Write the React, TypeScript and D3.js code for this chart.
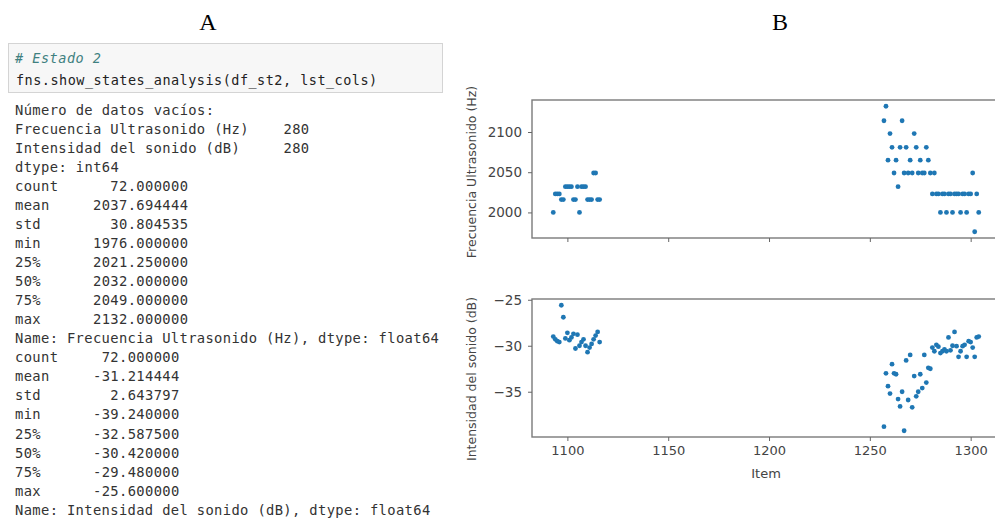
import { useEffect, useRef } from "react";
import * as d3 from "d3";

// item index of each row (two runs of consecutive items)
const items: number[] = [
  1093, 1094, 1095, 1096, 1097, 1098, 1099, 1100, 1101, 1102, 1103, 1104,
  1105, 1106, 1107, 1108, 1109, 1110, 1111, 1112, 1113, 1114, 1115, 1116,
  1257, 1258, 1259, 1260, 1261, 1262, 1263, 1264, 1265, 1266, 1267, 1268,
  1269, 1270, 1271, 1272, 1273, 1274, 1275, 1276, 1277, 1278, 1279, 1280,
  1281, 1282, 1283, 1284, 1285, 1286, 1287, 1288, 1289, 1290, 1291, 1292,
  1293, 1294, 1295, 1296, 1297, 1298, 1299, 1300, 1301, 1302, 1303, 1304,
];

const frecuencia: number[] = [
  2000, 2023, 2023, 2023, 2016, 2016, 2032, 2032, 2032, 2032, 2016, 2016,
  2032, 2000, 2032, 2032, 2032, 2016, 2016, 2016, 2049, 2049, 2016, 2016,
  2114, 2132, 2065, 2098, 2081, 2049, 2065, 2032, 2081, 2114, 2049, 2081,
  2049, 2065, 2049, 2098, 2081, 2049, 2065, 2049, 2049, 2081, 2065, 2049,
  2023, 2049, 2023, 2023, 2000, 2023, 2023, 2000, 2023, 2023, 2000, 2023,
  2023, 2023, 2000, 2023, 2023, 2000, 2023, 2023, 2049, 1976, 2023, 2000,
];

const intensidad: number[] = [
  -29.0, -29.3, -29.5, -29.6, -25.6, -26.9, -29.2, -28.6, -29.4, -29.1, -28.7, -30.3,
  -28.8, -30.0, -29.6, -29.3, -30.0, -30.7, -30.2, -29.8, -29.3, -28.9, -28.5, -29.6,
  -38.8, -33.0, -34.4, -35.2, -32.0, -33.0, -33.1, -35.8, -36.6, -35.0, -39.24, -31.6,
  -35.9, -31.0, -36.7, -33.3, -35.5, -35.0, -33.1, -34.6, -31.0, -34.0, -32.4, -32.5,
  -30.2, -30.6, -29.9, -30.1, -30.8, -30.6, -30.4, -30.6, -29.1, -30.5, -30.0, -28.5,
  -30.05, -31.2, -30.6, -30.05, -29.9, -31.2, -29.5, -29.6, -30.2, -31.2, -29.1, -29.0,
];

const xTicks = [1100, 1150, 1200, 1250, 1300];
const freqTicks = [2000, 2050, 2100];
const intTicks = [-35, -30, -25];

const codeComment = "# Estado 2";
const codeLine = "fns.show_states_analysis(df_st2, lst_cols)";
const outputLines: string[] = [
  "Número de datos vacíos:",
  "Frecuencia Ultrasonido (Hz)    280",
  "Intensidad del sonido (dB)     280",
  "dtype: int64",
  "count      72.000000",
  "mean     2037.694444",
  "std        30.804535",
  "min      1976.000000",
  "25%      2021.250000",
  "50%      2032.000000",
  "75%      2049.000000",
  "max      2132.000000",
  "Name: Frecuencia Ultrasonido (Hz), dtype: float64",
  "count     72.000000",
  "mean     -31.214444",
  "std        2.643797",
  "min      -39.240000",
  "25%      -32.587500",
  "50%      -30.420000",
  "75%      -29.480000",
  "max      -25.600000",
  "Name: Intensidad del sonido (dB), dtype: float64",
];

const W = 995;
const H = 523;
const CHAR_W = 8.65;
const MONO = "'DejaVu Sans Mono', monospace";
const SANS = "'DejaVu Sans', sans-serif";

const App = () => {
  const ref = useRef<SVGSVGElement>(null!);

  useEffect(() => {
    const svg = d3.select(ref.current);
    svg.selectAll("*").remove();
    svg.append("rect").attr("width", W).attr("height", H).attr("fill", "#fff");

    // panel letters
    svg.append("text").attr("x", 208).attr("y", 30).attr("text-anchor", "middle")
      .attr("font-family", "'Liberation Serif', serif").attr("font-size", 24).text("A");
    svg.append("text").attr("x", 780).attr("y", 30).attr("text-anchor", "middle")
      .attr("font-family", "'Liberation Serif', serif").attr("font-size", 24).text("B");

    // ---- panel A: notebook cell ----
    const a = svg.append("g");
    a.append("rect").attr("x", 8.5).attr("y", 43.5).attr("width", 434).attr("height", 49)
      .attr("fill", "#f7f7f7").attr("stroke", "#d4d4d4");
    a.append("text").attr("x", 15).attr("y", 63)
      .attr("font-family", MONO).attr("font-size", 13.5).attr("font-style", "italic")
      .attr("fill", "#408080").attr("textLength", codeComment.length * 8.6)
      .attr("lengthAdjust", "spacing").style("white-space", "pre").text(codeComment);
    a.append("text").attr("x", 16).attr("y", 84.5)
      .attr("font-family", MONO).attr("font-size", 13.5).attr("fill", "#222")
      .attr("textLength", codeLine.length * 8.6).attr("lengthAdjust", "spacing")
      .style("white-space", "pre").text(codeLine);

    a.selectAll("text.out")
      .data(outputLines)
      .enter()
      .append("text")
      .attr("class", "out")
      .attr("x", 15)
      .attr("y", (_, i) => 110.5 + i * 19.03 + 4.5)
      .attr("font-family", MONO)
      .attr("font-size", 13.8)
      .attr("fill", "#333")
      .attr("textLength", (d) => d.length * CHAR_W)
      .attr("lengthAdjust", "spacing")
      .style("white-space", "pre")
      .text((d) => d);

    // ---- panel B: scatter plots ----
    const left = 532;
    const right = 1000;
    const x = d3.scaleLinear().domain([1082.45, 1314.55]).range([left, right]);

    const panels = [
      { values: frecuencia, ticks: freqTicks, top: 100, bottom: 238, label: "Frecuencia Ultrasonido (Hz)", labelY: 172, showX: false },
      { values: intensidad, ticks: intTicks, top: 299, bottom: 437, label: "Intensidad del sonido (dB)", labelY: 379, showX: true },
    ];

    panels.forEach((p) => {
      const [lo, hi] = d3.extent(p.values) as [number, number];
      const m = (hi - lo) * 0.05;
      const y = d3.scaleLinear().domain([lo - m, hi + m]).range([p.bottom, p.top]);
      const g = svg.append("g");

      g.append("rect").attr("x", left).attr("y", p.top)
        .attr("width", right - left).attr("height", p.bottom - p.top)
        .attr("fill", "none").attr("stroke", "#7a7a7a").attr("stroke-width", 1.4);

      const yAxis = g.append("g").attr("transform", `translate(${left},0)`)
        .call(d3.axisLeft(y).tickValues(p.ticks).tickSize(4).tickPadding(6)
          .tickFormat((d) => String(d).replace("-", "\u2212")));
      yAxis.select(".domain").remove();
      yAxis.selectAll("line").attr("stroke", "#666");
      yAxis.selectAll("text").attr("font-family", SANS).attr("font-size", 13.5).attr("fill", "#444");

      const xAxis = g.append("g").attr("transform", `translate(0,${p.bottom})`)
        .call(d3.axisBottom(x).tickValues(xTicks).tickSize(4).tickPadding(5)
          .tickFormat((d) => (p.showX ? String(d) : "")));
      xAxis.select(".domain").remove();
      xAxis.selectAll("line").attr("stroke", "#666");
      xAxis.selectAll("text").attr("font-family", SANS).attr("font-size", 13).attr("fill", "#444");

      g.append("text")
        .attr("transform", `translate(476,${p.labelY}) rotate(-90)`)
        .attr("text-anchor", "middle")
        .attr("font-family", SANS).attr("font-size", 12.5).attr("fill", "#444")
        .text(p.label);

      g.selectAll("circle")
        .data(items)
        .enter()
        .append("circle")
        .attr("cx", (d) => x(d))
        .attr("cy", (_, i) => y(p.values[i]))
        .attr("r", 2.4)
        .attr("fill", "#1f77b4");
    });

    svg.append("text").attr("x", 766).attr("y", 478).attr("text-anchor", "middle")
      .attr("font-family", SANS).attr("font-size", 13).attr("fill", "#444").text("Item");
  }, []);

  return (
    <svg ref={ref} width={W} height={H} style={{ position: "absolute", left: 0, top: 0, display: "block" }} />
  );
};

export default App;
